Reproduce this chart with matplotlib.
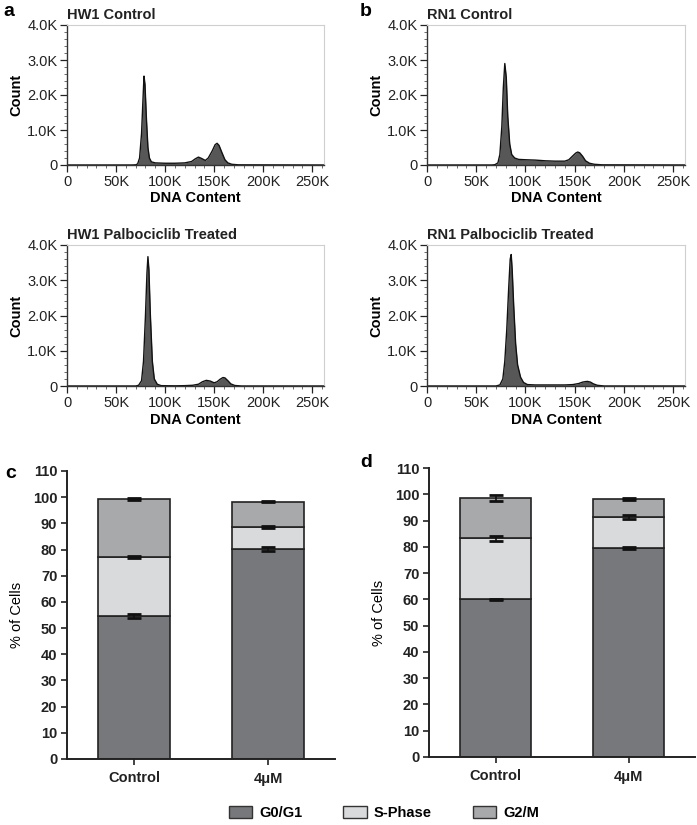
import matplotlib
matplotlib.use('Agg')
import matplotlib.pyplot as plt
from matplotlib.patches import Patch
from matplotlib.ticker import MultipleLocator, FuncFormatter
import numpy as np

plt.rcParams['font.family'] = ['Liberation Sans', 'DejaVu Sans']

# ---- histogram data (DNA content in K, count) ----
hw1_ctrl_x = [0, 66, 70, 72, 74, 76, 77.5, 78.5, 79.5, 81, 82.5, 84, 86, 90, 100, 110, 120, 127, 131, 134,
              137, 141, 144, 148, 151, 153, 155, 158, 161, 164, 168, 175, 262]
hw1_ctrl_y = [0, 0, 5, 30, 200, 900, 1900, 2540, 2300, 1300, 500, 200, 90, 60, 50, 50, 60, 100, 180, 225,
              190, 130, 200, 400, 580, 620, 560, 350, 150, 60, 20, 5, 0]

rn1_ctrl_x = [0, 66, 69, 72, 74, 76, 77.5, 79, 80.5, 82, 84, 86, 89, 93, 100, 110, 120, 130, 140, 144,
              148, 151, 153, 155, 158, 161, 165, 170, 178, 262]
rn1_ctrl_y = [0, 0, 10, 60, 300, 1100, 2200, 2900, 2500, 1400, 600, 300, 200, 160, 150, 140, 120, 110, 110, 150,
              260, 340, 370, 350, 250, 120, 50, 20, 5, 0]

hw1_trt_x = [0, 70, 73, 76, 78, 80, 81.5, 82.5, 83.5, 85, 87, 89, 92, 96, 110, 120, 128, 134, 138, 142,
             146, 150, 153, 156, 159, 161, 164, 167, 171, 178, 262]
hw1_trt_y = [0, 0, 20, 150, 700, 2000, 3200, 3670, 3300, 2000, 700, 200, 50, 10, 5, 10, 20, 50, 120, 160,
             140, 90, 120, 190, 240, 230, 150, 60, 15, 0, 0]

rn1_trt_x = [0, 70, 74, 77, 79, 81, 83, 84.5, 85.5, 86.5, 88, 90, 92, 95, 98, 102, 110, 120, 130, 140,
             148, 154, 158, 161, 163, 166, 169, 173, 180, 262]
rn1_trt_y = [0, 0, 30, 200, 700, 1600, 2800, 3600, 3730, 3300, 2300, 1200, 600, 250, 100, 40, 30, 30, 30, 30,
             40, 70, 110, 125, 130, 110, 60, 20, 0, 0]

# ---- stacked bar data (% of cells) ----
groups = ['Control', '4\u03bcM']
phases = ['G0/G1', 'S-Phase', 'G2/M']
c_g0 = [54.7, 80.2]
c_s = [22.5, 8.4]
c_g2 = [22.0, 9.7]
c_g0_err = [0.8, 0.6]
c_s_err = [0.5, 0.5]
c_g2_err = [0.3, 0.3]
d_g0 = [60.0, 79.6]
d_s = [23.2, 11.7]
d_g2 = [15.4, 7.0]
d_g0_err = [0.3, 0.4]
d_s_err = [1.0, 0.7]
d_g2_err = [1.0, 0.3]

colors = ['#77787b', '#d9dadc', '#a8a9ab']

W, H = 697, 825
fig = plt.figure(figsize=(W / 100, H / 100), dpi=100)


def px_axes(l, t, r, b):
    return fig.add_axes([l / W, 1 - b / H, (r - l) / W, (b - t) / H])


def k_fmt(v, pos):
    if v == 0:
        return '0'
    return '%dK' % v


def y_fmt(v, pos):
    if v == 0:
        return '0'
    return '%.1fK' % (v / 1000)


def hist_panel(box, x, y, title):
    ax = px_axes(*box)
    ax.fill_between(x, y, color='#575757', lw=0)
    ax.plot(x, y, color='#111111', lw=1.0)
    ax.set_xlim(0, 262)
    ax.set_ylim(0, 4000)
    ax.xaxis.set_major_locator(MultipleLocator(50))
    ax.xaxis.set_minor_locator(MultipleLocator(10))
    ax.yaxis.set_major_locator(MultipleLocator(1000))
    ax.yaxis.set_minor_locator(MultipleLocator(200))
    ax.xaxis.set_major_formatter(FuncFormatter(k_fmt))
    ax.yaxis.set_major_formatter(FuncFormatter(y_fmt))
    ax.tick_params(which='major', length=5, width=0.9, labelsize=10.5, colors='#222222', pad=2)
    ax.tick_params(which='minor', length=2.5, width=0.6, colors='#555555')
    for s in ['top', 'right']:
        ax.spines[s].set_color('#cfcfcf')
    for s in ['left', 'bottom']:
        ax.spines[s].set_color('#333333')
        ax.spines[s].set_linewidth(1.0)
    ax.set_xlabel('DNA Content', fontsize=10.5, fontweight='bold', labelpad=2)
    ax.set_ylabel('Count', fontsize=10.5, fontweight='bold', labelpad=3)
    ax.set_title(title, fontsize=10.5, fontweight='bold', loc='left', pad=4, color='#222222')
    return ax


hist_panel((67, 25, 324, 165), hw1_ctrl_x, hw1_ctrl_y, 'HW1 Control')
hist_panel((67, 245, 324, 386), hw1_trt_x, hw1_trt_y, 'HW1 Palbociclib Treated')
hist_panel((427, 25, 685, 165), rn1_ctrl_x, rn1_ctrl_y, 'RN1 Control')
hist_panel((427, 245, 685, 386), rn1_trt_x, rn1_trt_y, 'RN1 Palbociclib Treated')


def bar_panel(box, g0, s, g2, g0e, se, g2e):
    ax = px_axes(*box)
    pos = np.arange(len(groups))
    bw = 0.54
    ax.bar(pos, g0, bw, color=colors[0], edgecolor='#222222', lw=1.2, zorder=2)
    ax.bar(pos, s, bw, bottom=g0, color=colors[1], edgecolor='#222222', lw=1.2, zorder=2)
    tops_s = np.array(g0) + np.array(s)
    ax.bar(pos, g2, bw, bottom=tops_s, color=colors[2], edgecolor='#222222', lw=1.2, zorder=2)
    tops_g2 = tops_s + np.array(g2)
    for vals, errs in [(g0, g0e), (tops_s, se), (tops_g2, g2e)]:
        ax.errorbar(pos, vals, yerr=errs, fmt='none', ecolor='#111111', elinewidth=1.2,
                    capsize=4.8, capthick=2.0, zorder=3)
    ax.set_xlim(-0.5, 1.5)
    ax.set_ylim(0, 110)
    ax.set_yticks(np.arange(0, 111, 10))
    ax.set_xticks(pos)
    ax.set_xticklabels(groups)
    for lab in ax.get_xticklabels() + ax.get_yticklabels():
        lab.set_fontweight('bold')
    ax.tick_params(axis='y', length=4, width=1.2, labelsize=10.5, colors='#222222', pad=3)
    ax.tick_params(axis='x', length=4, width=1.2, labelsize=10.5, colors='#222222', pad=5)
    for sp in ['top', 'right']:
        ax.spines[sp].set_visible(False)
    for sp in ['left', 'bottom']:
        ax.spines[sp].set_linewidth(1.4)
        ax.spines[sp].set_color('#222222')
    ax.set_ylabel('% of Cells', fontsize=10.5, labelpad=6)
    return ax


bar_panel((67, 471, 335, 759), c_g0, c_s, c_g2, c_g0_err, c_s_err, c_g2_err)
bar_panel((429, 468, 695, 757), d_g0, d_s, d_g2, d_g0_err, d_s_err, d_g2_err)

# panel letters
for letter, x, y in [('a', 3, 11), ('b', 360, 11), ('c', 5, 473), ('d', 360, 463)]:
    fig.text(x / W, 1 - y / H, letter, fontsize=14, fontweight='bold', va='center', ha='left')

handles = [Patch(facecolor=colors[i], edgecolor='#333333', lw=1.0, label=phases[i]) for i in range(3)]
leg = fig.legend(handles=handles, loc='center', ncol=3, frameon=False,
                 bbox_to_anchor=(384 / W, 1 - 813 / H), fontsize=10.5,
                 handlelength=1.6, handleheight=0.9, columnspacing=2.8, handletextpad=0.5)
for t in leg.get_texts():
    t.set_fontweight('bold')

fig.savefig('out.png', dpi=100)
